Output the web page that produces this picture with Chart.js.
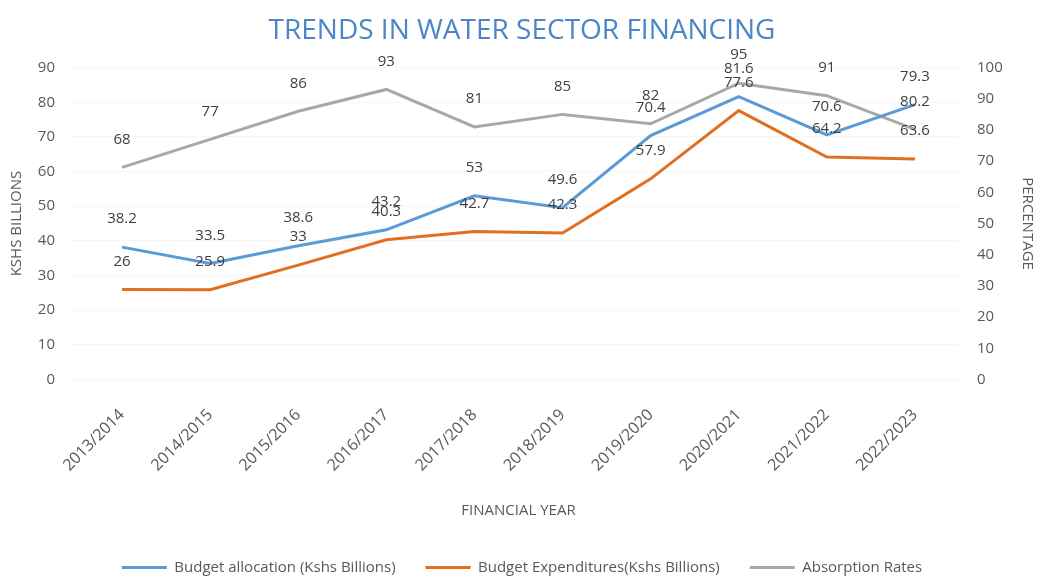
<!DOCTYPE html>
<html>
<head>
<meta charset="utf-8">
<script src="https://cdn.jsdelivr.net/npm/chart.js@4.4.0/dist/chart.umd.min.js"></script>
<style>
  html, body { margin: 0; padding: 0; background: #fff; }
  #wrap { width: 1044px; height: 585px; position: relative; }
</style>
</head>
<body>
<div id="wrap"><canvas id="chart"></canvas></div>
<script>
// Data
const years = ['2013/2014', '2014/2015', '2015/2016', '2016/2017', '2017/2018',
               '2018/2019', '2019/2020', '2020/2021', '2021/2022', '2022/2023'];
const allocation = [38.2, 33.5, 38.6, 43.2, 53, 49.6, 70.4, 81.6, 70.6, 79.3];
const expenditure = [26, 25.9, 33, 40.3, 42.7, 42.3, 57.9, 77.6, 64.2, 63.6];
const absorption = [68, 77, 86, 93, 81, 85, 82, 95, 91, 80.2];

const FONT = "'Open Sans', 'Liberation Sans', sans-serif";
const textGray = '#595959';

// small plugin for the value labels above the points
const valueLabels = {
    id: 'valueLabels',
    afterDatasetsDraw(chart) {
        const ctx = chart.ctx;
        ctx.save();
        ctx.font = '15px ' + FONT;
        ctx.fillStyle = '#404040';
        ctx.textAlign = 'center';
        ctx.textBaseline = 'middle';
        chart.data.datasets.forEach((ds, i) => {
            const meta = chart.getDatasetMeta(i);
            meta.data.forEach((pt, j) => {
                ctx.fillText(String(ds.data[j]), pt.x, pt.y - 28);
            });
        });
        ctx.restore();
    }
};

new Chart(document.getElementById('chart'), {
    type: 'line',
    data: {
        labels: years,
        datasets: [{
            label: 'Budget allocation (Kshs Billions)',
            data: allocation,
            borderColor: '#5b9bd5',
            backgroundColor: '#5b9bd5',
            borderWidth: 3,
            yAxisID: 'y'
        }, {
            label: 'Budget Expenditures(Kshs Billions)',
            data: expenditure,
            borderColor: '#e0701f',
            backgroundColor: '#e0701f',
            borderWidth: 3,
            yAxisID: 'y'
        }, {
            label: 'Absorption Rates',
            data: absorption,
            borderColor: '#a5aba4',
            backgroundColor: '#a5aba4',
            borderWidth: 3,
            yAxisID: 'y1'
        }]
    },
    options: {
        responsive: true,
        maintainAspectRatio: false,
        animation: false,
        layout: { padding: { top: 6, left: 4, right: 4, bottom: 0 } },
        elements: {
            line: { tension: 0 },
            point: { radius: 0 }
        },
        plugins: {
            title: {
                display: true,
                text: 'TRENDS IN WATER SECTOR FINANCING',
                color: '#4a86c8',
                font: { family: FONT, size: 28, weight: 'normal' },
                padding: { top: 8, bottom: 20 }
            },
            legend: {
                position: 'bottom',
                labels: {
                    usePointStyle: true,
                    pointStyle: 'line',
                    pointStyleWidth: 45,
                    boxHeight: 4,
                    color: textGray,
                    font: { family: FONT, size: 15 },
                    padding: 30
                }
            },
            tooltip: { enabled: false }
        },
        scales: {
            x: {
                offset: true,
                grid: { display: false },
                border: { display: false },
                ticks: {
                    color: textGray,
                    font: { family: FONT, size: 16 },
                    minRotation: 45,
                    maxRotation: 45,
                    padding: 18
                },
                title: {
                    display: true,
                    text: 'FINANCIAL YEAR',
                    color: textGray,
                    font: { family: FONT, size: 15 },
                    padding: { top: 9, bottom: 10 }
                }
            },
            y: {
                position: 'left',
                min: 0,
                max: 90,
                grid: { color: 'rgba(0,0,0,0.03)' },
                border: { display: false },
                ticks: {
                    stepSize: 10,
                    color: textGray,
                    font: { family: FONT, size: 15 },
                    padding: 15
                },
                title: {
                    display: true,
                    text: 'KSHS BILLIONS',
                    color: textGray,
                    font: { family: FONT, size: 15 }
                },
                afterFit(scale) { scale.width = 74; }
            },
            y1: {
                position: 'right',
                min: 0,
                max: 100,
                grid: { display: false },
                border: { display: false },
                ticks: {
                    stepSize: 10,
                    color: textGray,
                    font: { family: FONT, size: 15 },
                    padding: 10
                },
                title: {
                    display: true,
                    text: 'PERCENTAGE',
                    color: textGray,
                    font: { family: FONT, size: 15 }
                },
                afterFit(scale) { scale.width = 81; }
            }
        }
    },
    plugins: [valueLabels]
});
</script>
</body>
</html>
